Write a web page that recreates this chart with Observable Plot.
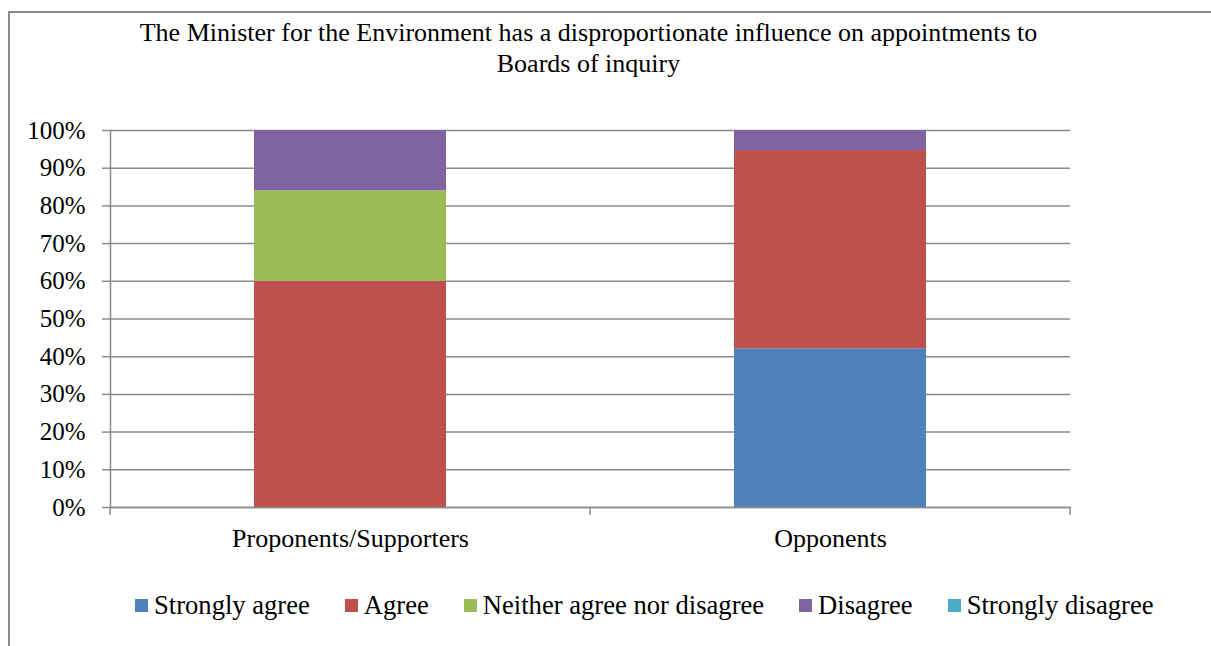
<!DOCTYPE html>
<html>
<head>
<meta charset="utf-8">
<script src="https://cdn.jsdelivr.net/npm/d3@7"></script>
<script src="https://cdn.jsdelivr.net/npm/@observablehq/plot@0.6"></script>
<style>
  html, body { margin: 0; padding: 0; background: #fff; overflow: hidden; }
  #wrap { position: relative; width: 1211px; height: 646px; font-family: "Liberation Serif", "Times New Roman", serif; color: #000; }
  #border { position: absolute; left: 8px; top: 11px; width: 1400px; height: 800px; border: 2px solid #8a8a8a; box-sizing: border-box; }
  #title { position: absolute; left: 0; top: 17px; width: 1177px; text-align: center; font-size: 26px; line-height: 31px; }
  #chart { position: absolute; left: 0; top: 0; }
  #legend { position: absolute; left: 135px; top: 588px; display: flex; align-items: center; font-size: 26.6px; line-height: 34px; white-space: nowrap; }
  .item { display: flex; align-items: center; margin-right: 35px; }
  .sw { width: 13px; height: 13px; margin-right: 6px; }
</style>
</head>
<body>
<div id="wrap">
  <div id="border"></div>
  <div id="title">The Minister for the Environment has a disproportionate influence on appointments to<br>Boards of inquiry</div>
  <div id="chart"></div>
  <div id="legend"></div>
</div>
<script>
// Respondent groups and answer categories
const groups = ["Proponents/Supporters", "Opponents"];
const responses = ["Strongly agree", "Agree", "Neither agree nor disagree", "Disagree", "Strongly disagree"];
const colors = ["#4F81BD", "#C0504D", "#9BBB59", "#8064A2", "#4BACC6"];

// Share of each group (%) per answer, in the order of `responses`
const proponents = [0, 60, 24, 16, 0];
const opponents = [42.1, 52.6, 0, 5.3, 0];

const yTicks = [0, 10, 20, 30, 40, 50, 60, 70, 80, 90, 100];

const rows = [];
[proponents, opponents].forEach((vals, gi) => {
  vals.forEach((v, ri) => rows.push({group: groups[gi], response: responses[ri], value: v}));
});

const font = "Liberation Serif, Times New Roman, serif";

const plot = Plot.plot({
  width: 1211,
  height: 560,
  marginLeft: 110,
  marginRight: 141,
  marginTop: 130,
  marginBottom: 53,
  style: {fontFamily: font, fontSize: "26px", color: "#000", background: "transparent", overflow: "visible"},
  x: {domain: groups, paddingInner: 0.6, paddingOuter: 0.3, label: null},
  y: {domain: [0, 100], label: null},
  color: {domain: responses, range: colors},
  marks: [
    Plot.gridY(yTicks, {stroke: "#8c8c8c", strokeOpacity: 1, strokeWidth: 1.5}),
    Plot.barY(rows, {x: "group", y: "value", fill: "response", order: responses}),
    Plot.frame({anchor: "left", stroke: "#8c8c8c", strokeWidth: 1.5}),
    Plot.frame({anchor: "bottom", stroke: "#8c8c8c", strokeWidth: 1.5}),
    Plot.axisY(yTicks, {tickFormat: d => d + "%", tickSize: 8, tickPadding: 17, stroke: "#8c8c8c", strokeWidth: 1.5, fontSize: 25, fill: "#000"}),
    Plot.axisX({tickSize: 0, tickPadding: 21, fontSize: 26, fill: "#000"})
  ]
});
document.getElementById("chart").appendChild(plot);

// Tick marks on the category axis sit at the band boundaries
const xs = plot.scale("x");
const yScale = plot.scale("y");
const y0 = yScale.apply(0);
const half = (xs.step - xs.bandwidth) / 2;
const bounds = groups.map(g => xs.apply(g) - half);
bounds.push(xs.apply(groups[groups.length - 1]) + xs.bandwidth + half);
d3.select(plot).append("g")
  .attr("stroke", "#8c8c8c").attr("stroke-width", 1.5)
  .selectAll("line").data(bounds).join("line")
  .attr("x1", d => d).attr("x2", d => d)
  .attr("y1", y0).attr("y2", y0 + 8);

// Legend
const legend = d3.select("#legend");
responses.forEach((r, i) => {
  const it = legend.append("div").attr("class", "item");
  it.append("div").attr("class", "sw").style("background", colors[i]);
  it.append("span").text(r);
});
</script>
</body>
</html>
